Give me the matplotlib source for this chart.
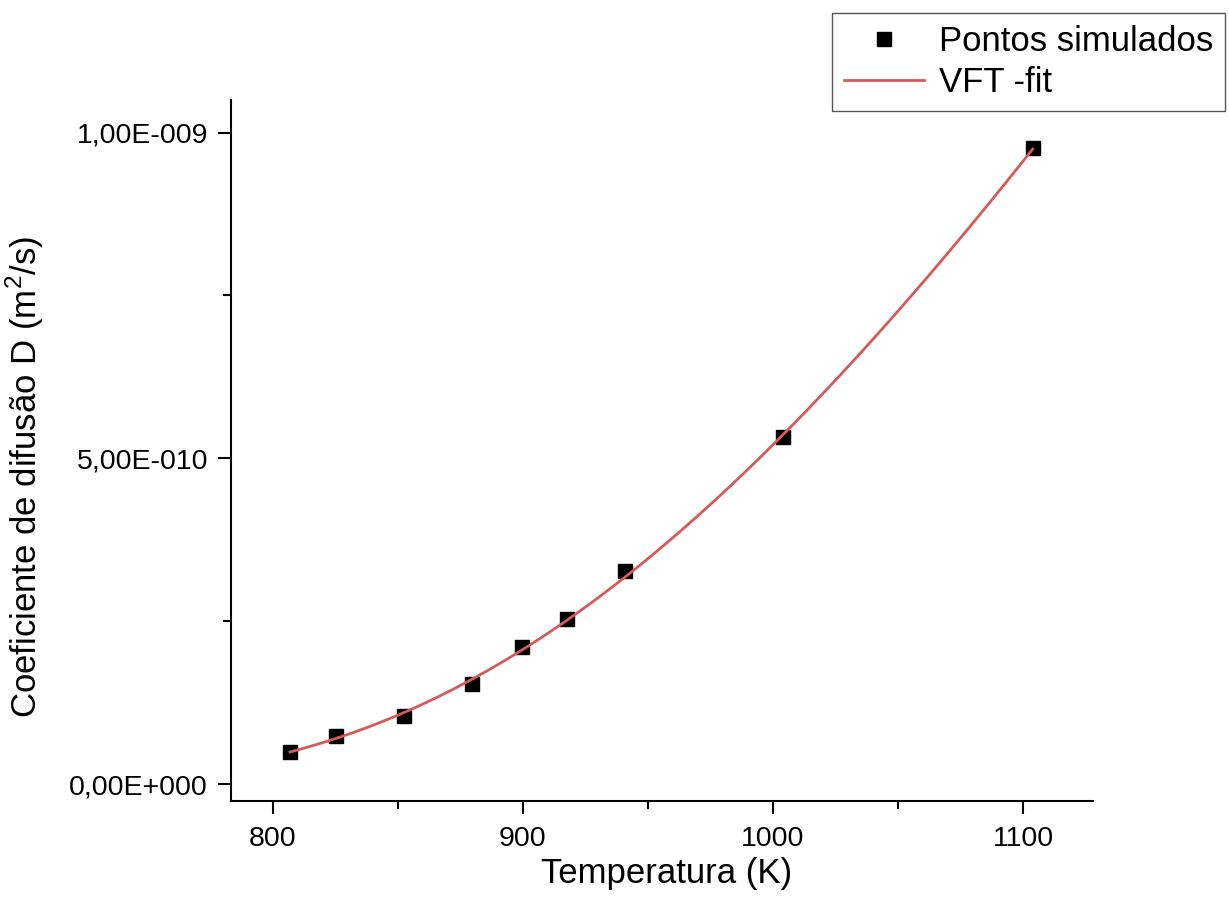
import numpy as np
import matplotlib

matplotlib.use("Agg")
import matplotlib.pyplot as plt
from matplotlib.ticker import FuncFormatter

# simulated diffusion coefficients
temperatura = [807.0, 825.4, 852.6, 879.8, 899.8, 917.8, 941.1, 1004.2, 1103.9]
difusao = [0.0491e-9, 0.0737e-9, 0.1044e-9, 0.1535e-9, 0.2103e-9,
           0.2533e-9, 0.3275e-9, 0.5323e-9, 0.976e-9]

x_major = [800, 900, 1000, 1100]
x_minor = [850, 950, 1050]
y_major = [0.0, 5e-10, 1e-9]
y_minor = [2.5e-10, 7.5e-10]

LABEL_PONTOS = "Pontos simulados"
LABEL_FIT = "VFT -fit"
XLABEL = "Temperatura (K)"
YLABEL = "Coeficiente de difusão D (m$^2$/s)"

plt.rcParams["font.family"] = ["Liberation Sans", "DejaVu Sans"]
plt.rcParams["mathtext.fontset"] = "custom"
plt.rcParams["mathtext.rm"] = "Liberation Sans"


def vft_fit(t, d):
    """Fit ln D = ln D0 - B / (T - T0), scanning T0 on a grid."""
    t = np.asarray(t)
    d = np.asarray(d)
    best = None
    for t0 in np.arange(0.0, t.min() - 5.0, 0.5):
        x = 1.0 / (t - t0)
        coef = np.polyfit(x, np.log(d), 1)
        sse = np.sum((np.exp(np.polyval(coef, x)) - d) ** 2)
        if best is None or sse < best[0]:
            best = (sse, t0, coef)
    _, t0, coef = best
    tt = np.linspace(t.min(), t.max(), 300)
    return tt, np.exp(np.polyval(coef, 1.0 / (tt - t0)))


def origin_sci(value, _pos):
    if value == 0:
        return "0,00E+000"
    exp = int(np.floor(np.log10(abs(value))))
    mant = value / 10 ** exp
    sign = "+" if exp >= 0 else "-"
    return f"{mant:.2f}".replace(".", ",") + f"E{sign}{abs(exp):03d}"


fig = plt.figure(figsize=(12.29, 9.08), dpi=100)
ax = fig.add_axes([231 / 1229, 1 - 800.7 / 908, 862 / 1229, 700.7 / 908])

fit_t, fit_d = vft_fit(temperatura, difusao)
ax.plot(temperatura, difusao, linestyle="none", marker="s", markersize=10.5,
        color="black", label=LABEL_PONTOS, zorder=2)
ax.plot(fit_t, fit_d, color="#d65a5a", linewidth=2.0, label=LABEL_FIT, zorder=3)

ax.set_xlim(783.4, 1128)
ax.set_ylim(-0.0256e-9, 1.050e-9)
ax.set_xticks(x_major)
ax.set_xticks(x_minor, minor=True)
ax.set_yticks(y_major)
ax.set_yticks(y_minor, minor=True)
ax.yaxis.set_major_formatter(FuncFormatter(origin_sci))

for side in ("top", "right"):
    ax.spines[side].set_visible(False)
for side in ("left", "bottom"):
    ax.spines[side].set_linewidth(1.5)

ax.tick_params(which="major", direction="out", length=9.5, width=1.5,
               labelsize=20.5, pad=7)
ax.tick_params(axis="x", which="major", pad=9)
ax.tick_params(which="minor", direction="out", length=5.5, width=1.5)

ax.set_xlabel(XLABEL, fontsize=25)
ax.set_ylabel(YLABEL, fontsize=25)
ax.xaxis.set_label_coords(0.505, -0.1046)
ax.yaxis.set_label_coords(-0.239, 0.462)
ax.xaxis.label.set_va("center")
ax.yaxis.label.set_va("center")

leg = ax.legend(loc="upper left", bbox_to_anchor=(832 / 1229, 1 - 13 / 908),
                bbox_transform=fig.transFigure, borderaxespad=0, fontsize=25,
                fancybox=False, framealpha=1, edgecolor="#555555",
                handlelength=2.3, handletextpad=0.45, borderpad=0.34,
                labelspacing=0.24)
leg.get_frame().set_linewidth(1.0)

fig.savefig("out.png", dpi=100)
